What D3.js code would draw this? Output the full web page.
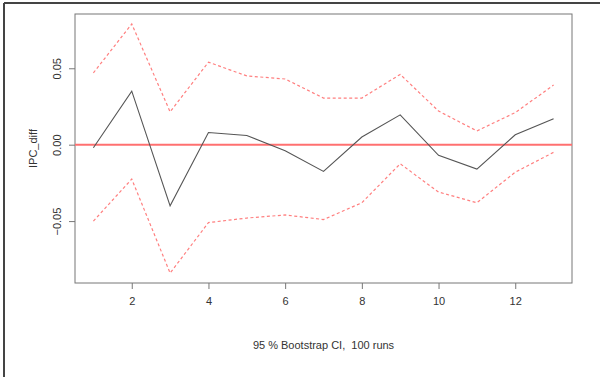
<!DOCTYPE html>
<html lang="en">
<head>
<meta charset="utf-8" />
<script src="https://cdn.jsdelivr.net/npm/d3@7"></script>
<style>
  body { margin: 0; background: #fff; }
  text { font-family: "Liberation Sans", Arial, sans-serif; fill: #333; }
</style>
</head>
<body>
<div id="chart"></div>
<script>
// bootstrap irf: horizon, point estimate and 95% CI bounds
const steps = [1, 2, 3, 4, 5, 6, 7, 8, 9, 10, 11, 12, 13];
const irf   = [-0.002, 0.035, -0.040, 0.008, 0.006, -0.004, -0.0175, 0.005, 0.0195, -0.007, -0.016, 0.0065, 0.017];
const upper = [0.047, 0.079, 0.0215, 0.054, 0.045, 0.043, 0.0305, 0.0305, 0.046, 0.022, 0.009, 0.021, 0.039];
const lower = [-0.050, -0.0225, -0.084, -0.051, -0.048, -0.046, -0.049, -0.038, -0.0125, -0.031, -0.038, -0.018, -0.005];
const xTicks = [2, 4, 6, 8, 10, 12];
const yTicks = [-0.05, 0, 0.05];

const W = 600, H = 377;
const box = {left: 75, right: 572, top: 14, bottom: 283};

const svg = d3.select("#chart").append("svg")
  .attr("width", W).attr("height", H);

// outer frame (top and left only, as in the screenshot)
svg.append("line").attr("x1", 4).attr("x2", W).attr("y1", 3).attr("y2", 3)
  .attr("stroke", "#444").attr("stroke-width", 2);
svg.append("line").attr("x1", 4).attr("x2", 4).attr("y1", 3).attr("y2", H)
  .attr("stroke", "#444").attr("stroke-width", 2);

// R style 4% padding
function pad(ext) {
  let d = (ext[1] - ext[0]) * 0.04;
  return [ext[0] - d, ext[1] + d];
}
const x = d3.scaleLinear().domain(pad(d3.extent(steps))).range([box.left, box.right]);
const y = d3.scaleLinear().domain(pad([d3.min(lower), d3.max(upper)])).range([box.bottom, box.top]);

// plot box
svg.append("rect")
  .attr("x", box.left).attr("y", box.top)
  .attr("width", box.right - box.left).attr("height", box.bottom - box.top)
  .attr("fill", "none").attr("stroke", "#777").attr("stroke-width", 1);

// axes
let xAxis = svg.append("g").attr("transform", "translate(0," + box.bottom + ")")
  .call(d3.axisBottom(x).tickValues(xTicks).tickSize(6).tickPadding(8).tickFormat(d3.format("d")));
xAxis.select(".domain").remove();
xAxis.selectAll("line").attr("stroke", "#777");
xAxis.selectAll("text").style("font-size", "11px").attr("fill", "#333");

let yAxis = svg.append("g").attr("transform", "translate(" + box.left + ",0)")
  .call(d3.axisLeft(y).tickValues(yTicks).tickSize(6).tickFormat(d3.format(".2f")));
yAxis.select(".domain").remove();
yAxis.selectAll("line").attr("stroke", "#777");
yAxis.selectAll("text")
  .style("font-size", "11px").attr("fill", "#333")
  .attr("text-anchor", "middle")
  .attr("dy", null)
  .attr("x", null)
  .attr("transform", "translate(-14,0) rotate(-90)");

// axis labels
svg.append("text")
  .attr("x", (box.left + box.right) / 2).attr("y", 349)
  .attr("text-anchor", "middle").style("font-size", "11px")
  .style("white-space", "pre")
  .text("95 % Bootstrap CI,  100 runs");
svg.append("text")
  .attr("transform", "translate(37," + ((box.top + box.bottom) / 2) + ") rotate(-90)")
  .attr("text-anchor", "middle").style("font-size", "11px")
  .text("IPC_diff");

// zero line
svg.append("line")
  .attr("x1", box.left).attr("x2", box.right)
  .attr("y1", y(0)).attr("y2", y(0))
  .attr("stroke", "#ff7070").attr("stroke-width", 2);

const line = d3.line().x((d, i) => x(steps[i])).y(d => y(d));

svg.append("path").datum(upper).attr("d", line)
  .attr("fill", "none").attr("stroke", "#ff7f7f").attr("stroke-width", 1.2)
  .attr("stroke-dasharray", "3,2.5");
svg.append("path").datum(lower).attr("d", line)
  .attr("fill", "none").attr("stroke", "#ff7f7f").attr("stroke-width", 1.2)
  .attr("stroke-dasharray", "3,2.5");
svg.append("path").datum(irf).attr("d", line)
  .attr("fill", "none").attr("stroke", "#555").attr("stroke-width", 1.1);
</script>
</body>
</html>
